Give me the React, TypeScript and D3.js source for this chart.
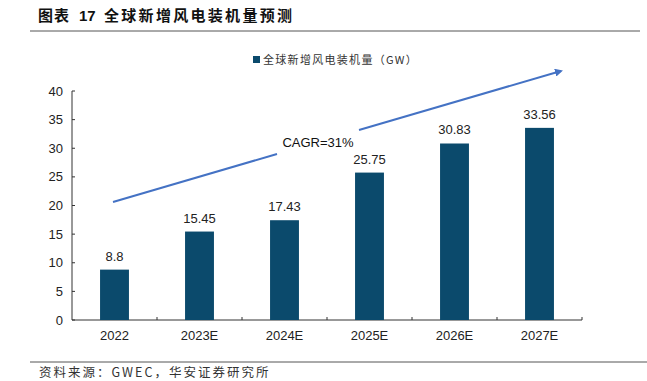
import React from "react";
import * as d3 from "d3";

const categories = ["2022", "2023E", "2024E", "2025E", "2026E", "2027E"];
const values = [8.8, 15.45, 17.43, 25.75, 30.83, 33.56];
const valueLabels = ["8.8", "15.45", "17.43", "25.75", "30.83", "33.56"];
const yTicks = [0, 5, 10, 15, 20, 25, 30, 35, 40];
const seriesName = "全球新增风电装机量（GW）";
const titleLead = "图表";
const titleNum = "17";
const titleMain = "全球新增风电装机量预测";
const source = "资料来源：GWEC，华安证券研究所";
const cagrText = "CAGR=31%";

export default function App() {
  const W = 647, H = 381;
  const x0 = 72, x1 = 582, yTop = 91, yBot = 320;
  const x = d3.scaleBand().domain(categories).range([x0, x1]).paddingInner(0.66).paddingOuter(0.33);
  const y = d3.scaleLinear().domain([0, 40]).range([yBot, yTop]);
  const bw = x.bandwidth();
  const barColor = "#0B4A6C";
  const arrowColor = "#4472C4";
  const font = "'Liberation Sans', Arial, sans-serif";
  const cjk = "'Noto Sans CJK SC', sans-serif";
  const boundaries = categories.map((_, i) => x0 + (i + 1) * ((x1 - x0) / categories.length));

  return (
    <svg width={W} height={H} style={{ position: "absolute", left: 0, top: 0 }}>
      <rect width={W} height={H} fill="#fff" />
      <g fontFamily={cjk} fontWeight="bold" fontSize={15} fill="#111">
        <text x={38} y={21} letterSpacing={1}>{titleLead}</text>
        <text x={79} y={21} fontFamily={font}>{titleNum}</text>
        <text x={104} y={21} letterSpacing={2.3}>{titleMain}</text>
      </g>
      <line x1={30} x2={640} y1={31} y2={31} stroke="#555" strokeWidth={1} />
      {/* legend */}
      <rect x={253} y={56} width={7} height={7} fill={barColor} />
      <text x={263} y={63.5} fontFamily={cjk} fontSize={11} fill="#333" letterSpacing={1.3}>{seriesName}</text>
      {/* y axis */}
      <line x1={x0} x2={x0} y1={yTop} y2={yBot} stroke="#333" />
      {yTicks.map((t) => (
        <g key={t}>
          <line x1={x0} x2={x0 + 3} y1={y(t)} y2={y(t)} stroke="#333" />
          <text x={x0 - 9} y={y(t) + 4.5} textAnchor="end" fontFamily={font} fontSize={13} fill="#222">{t}</text>
        </g>
      ))}
      {/* x axis */}
      <line x1={x0} x2={x1} y1={yBot} y2={yBot} stroke="#333" />
      {boundaries.map((b, i) => (
        <line key={i} x1={b} x2={b} y1={yBot} y2={yBot - 3} stroke="#333" />
      ))}
      {categories.map((c, i) => {
        const cx = (x(c) as number) + bw / 2;
        return (
          <g key={c}>
            <rect x={x(c) as number} y={y(values[i])} width={bw} height={yBot - y(values[i])} fill={barColor} />
            <text x={cx} y={y(values[i]) - 9} textAnchor="middle" fontFamily={font} fontSize={13} fill="#222">{valueLabels[i]}</text>
            <text x={cx} y={yBot + 20} textAnchor="middle" fontFamily={font} fontSize={13} fill="#222">{c}</text>
          </g>
        );
      })}
      {/* CAGR arrow */}
      <defs>
        <marker id="ah" markerWidth="8" markerHeight="8" refX="6" refY="4" orient="auto" markerUnits="userSpaceOnUse">
          <path d="M0,0 L8,4 L0,8 Z" fill={arrowColor} />
        </marker>
      </defs>
      <line x1={113} y1={202} x2={277} y2={154} stroke={arrowColor} strokeWidth={2} />
      <line x1={359} y1={130} x2={561} y2={71} stroke={arrowColor} strokeWidth={2} markerEnd="url(#ah)" />
      <text x={318} y={147} textAnchor="middle" fontFamily={font} fontSize={13} fill="#111">{cagrText}</text>
      {/* footer */}
      <line x1={30} x2={647} y1={362} y2={362} stroke="#555" strokeWidth={1} />
      <text x={39} y={377} fontFamily={cjk} fontSize={12.5} fill="#333" letterSpacing={2}>{source}</text>
    </svg>
  );
}
